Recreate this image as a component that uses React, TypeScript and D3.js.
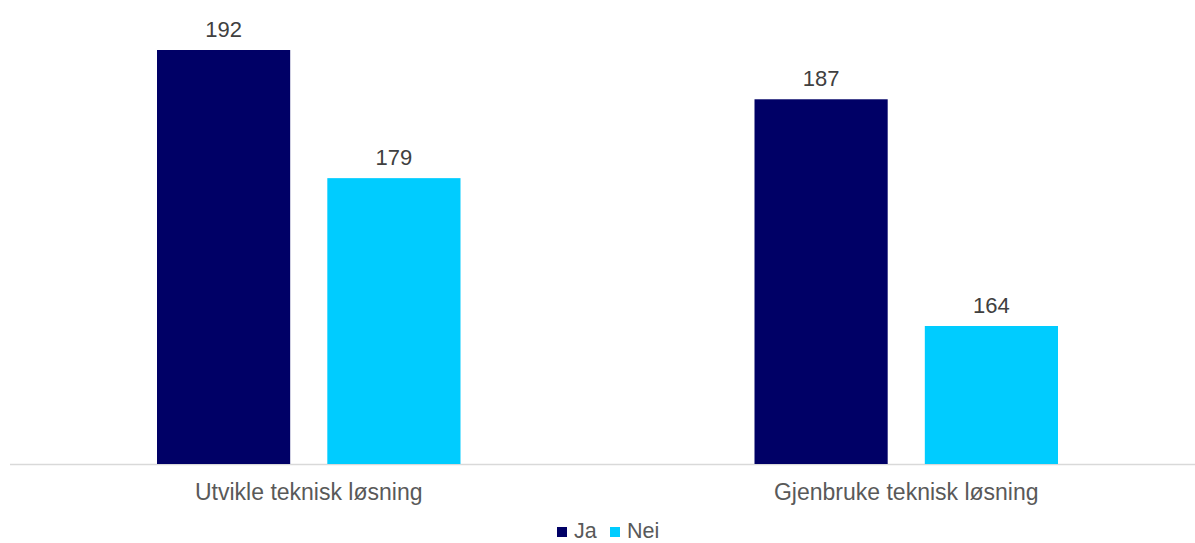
import React from "react";
import * as d3 from "d3";

const categories = ["Utvikle teknisk løsning", "Gjenbruke teknisk løsning"];
const seriesNames = ["Ja", "Nei"];
const jaValues = [192, 187];
const neiValues = [179, 164];
const colors = ["#000066", "#00CCFF"];

const W = 1195;
const H = 543;
const FONT = "'Liberation Sans', Arial, sans-serif";
const TEXT = "#595959";

export default function App() {
  const series = [jaValues, neiValues];
  const x0 = d3.scaleBand<string>().domain(categories).range([10, 1205]).paddingInner(0).paddingOuter(0);
  const bw = x0.bandwidth();
  const x1 = d3.scaleBand<string>().domain(seriesNames).range([147, bw - 147]).paddingInner(0.218).paddingOuter(0);
  const y = d3.scaleLinear().domain([150, 200]).range([464, 50 - 8 * 9.857]);
  const baseY = y(150);

  return (
    <svg width={W} height={H} style={{ position: "absolute", left: 0, top: 0, background: "#fff" }} fontFamily={FONT}>
      <line x1={10} x2={W} y1={baseY + 0.5} y2={baseY + 0.5} stroke="#d9d9d9" strokeWidth={1.5} />
      {categories.map((c, ci) => (
        <g key={c}>
          {seriesNames.map((s, si) => {
            const v = series[si][ci];
            const bx = (x0(c) ?? 0) + (x1(s) ?? 0);
            return (
              <g key={s}>
                <rect x={bx} y={y(v)} width={x1.bandwidth()} height={baseY - y(v)} fill={colors[si]} />
                <text x={bx + x1.bandwidth() / 2} y={y(v) - 13} textAnchor="middle" fontSize={22} fill="#404040">
                  {v}
                </text>
              </g>
            );
          })}
          <text x={(x0(c) ?? 0) + bw / 2} y={500} textAnchor="middle" fontSize={23} fill={TEXT}>
            {c}
          </text>
        </g>
      ))}
      <g>
        {seriesNames.map((s, i) => {
          const lx = i === 0 ? 557 : 610;
          return (
            <g key={s}>
              <rect x={lx} y={527} width={10} height={10} fill={colors[i]} />
              <text x={lx + 17} y={538} fontSize={21.5} fill={TEXT}>
                {s}
              </text>
            </g>
          );
        })}
      </g>
    </svg>
  );
}
